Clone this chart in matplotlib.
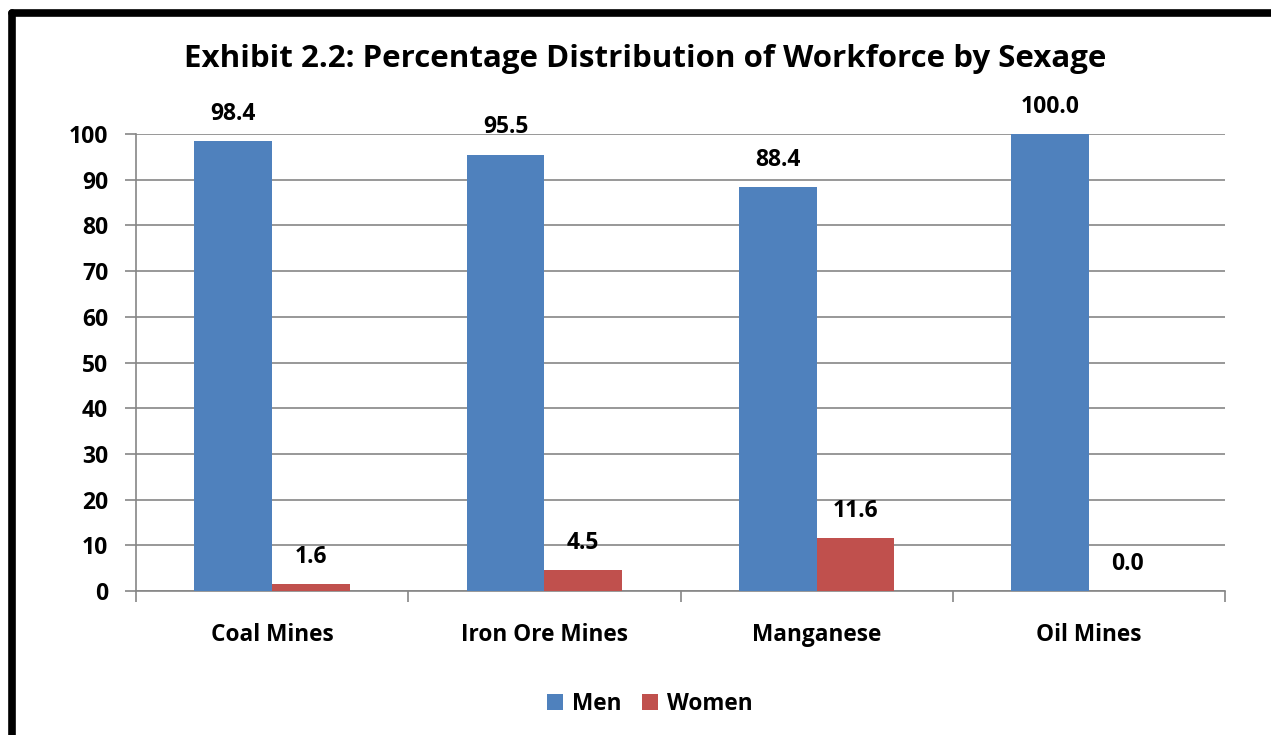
import matplotlib.pyplot as plt
import numpy as np
from matplotlib.lines import Line2D

categories = ["Coal Mines", "Iron Ore Mines", "Manganese", "Oil Mines"]
men = [98.4, 95.5, 88.4, 100.0]
women = [1.6, 4.5, 11.6, 0.0]

plt.rcParams['font.family'] = ['Open Sans', 'DejaVu Sans']
plt.rcParams['font.weight'] = 'bold'

blue = "#4F81BD"
red = "#C0504D"
grid = "#868686"

fig = plt.figure(figsize=(12.71, 7.35), dpi=100)
ax = fig.add_axes([136/1271, 1-591/735, (1225-136)/1271, (591-134)/735])

x = np.arange(len(categories))
w = 1/3.5
b1 = ax.bar(x - w/2, men, w, color=blue, label="Men", zorder=3)
b2 = ax.bar(x + w/2, women, w, color=red, label="Women", zorder=3)

for bars, vals in [(b1, men), (b2, women)]:
    for r, v in zip(bars, vals):
        ax.annotate(f"{v:.1f}", (r.get_x() + r.get_width()/2, v),
                    xytext=(0, 19.5), textcoords="offset points",
                    ha="center", va="center", fontsize=16.5, fontweight="bold")

ax.set_xlim(-0.5, len(categories) - 0.5)
ax.set_ylim(0, 100)
ax.set_yticks(range(0, 101, 10))
ax.yaxis.grid(True, color=grid, linewidth=1.2, zorder=0)
ax.set_xticks(x)
ax.set_xticklabels(categories)
ax.set_xticks(np.arange(-0.5, len(categories)), minor=True)
ax.tick_params(axis='x', which='major', length=0, pad=23, labelsize=16.3)
ax.tick_params(axis='x', which='minor', length=8, color=grid, width=1.2)
ax.tick_params(axis='y', length=8, color=grid, width=1.2, labelsize=16.5, pad=12)
for s in ['top', 'right']:
    ax.spines[s].set_visible(False)
for s in ['left', 'bottom']:
    ax.spines[s].set_color(grid)
    ax.spines[s].set_linewidth(1.2)
for lab in ax.get_xticklabels() + ax.get_yticklabels():
    lab.set_fontweight('bold')

fig.text(645/1271, 1-59/735, "Exhibit 2.2: Percentage Distribution of Workforce by Sexage",
         ha="center", va="center", fontsize=22.5, fontweight="bold")

fig.legend(handles=[b1, b2], loc="center", bbox_to_anchor=(650/1271, 1-704/735),
           ncol=2, frameon=False, fontsize=16.3, handlelength=0.7, handleheight=0.7,
           columnspacing=0.9, handletextpad=0.4)

# outer frame (left and top visible)
fig.add_artist(Line2D([12/1271, 12/1271], [0, 1-13/735], color="black", linewidth=5.5,
                      transform=fig.transFigure, solid_capstyle="round"))
fig.add_artist(Line2D([12/1271, 1.0], [1-13/735, 1-13/735], color="black", linewidth=5.5,
                      transform=fig.transFigure, solid_capstyle="round"))

fig.savefig("out.png", dpi=100)
